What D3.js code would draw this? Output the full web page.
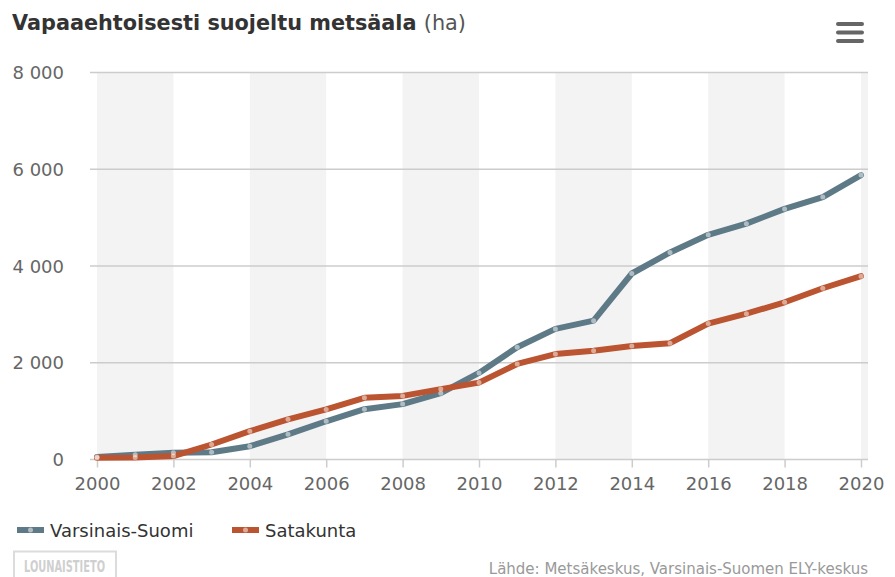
<!DOCTYPE html>
<html><head><meta charset="utf-8">
<script src="https://cdn.jsdelivr.net/npm/d3@7"></script>
<style>body{margin:0;background:#fff}svg{display:block}</style>
</head><body>
<script>
const years = [2000,2001,2002,2003,2004,2005,2006,2007,2008,2009,2010,2011,2012,2013,2014,2015,2016,2017,2018,2019,2020];
const varsinaisSuomi = [50,100,140,150,275,520,790,1040,1145,1370,1790,2320,2700,2870,3845,4280,4645,4875,5180,5425,5880];
const satakunta = [35,40,70,310,585,830,1035,1275,1315,1455,1590,1975,2180,2250,2345,2405,2810,3015,3250,3540,3790];
const seriesNames = ["Varsinais-Suomi","Satakunta"];
const yTicks = [0,2000,4000,6000,8000];
const xTicks = [2000,2002,2004,2006,2008,2010,2012,2014,2016,2018,2020];
const bandStarts = [2000,2004,2008,2012,2016,2020];
const colors = ["#5e7a87","#bb5430"];

const W=895,H=577;
const svg=d3.select("body").append("svg").attr("width",W).attr("height",H);
const plotL=90, plotR=868, plotT=72.5, plotB=459.5;
const x=d3.scaleLinear().domain([2000,2020]).range([97,861]);
const y=d3.scaleLinear().domain([0,8000]).range([plotB,plotT]);
const font="'DejaVu Sans', sans-serif";

svg.append("defs").append("clipPath").attr("id","clip").append("rect")
  .attr("x",plotL).attr("y",plotT).attr("width",plotR-plotL).attr("height",plotB-plotT);

// bands
svg.append("g").attr("clip-path","url(#clip)").selectAll("rect").data(bandStarts).join("rect")
  .attr("x",d=>x(d)).attr("y",plotT).attr("width",d=>x(d+2)-x(d)).attr("height",plotB-plotT)
  .attr("fill","#f3f3f3");

// grid
svg.append("g").selectAll("line").data(yTicks.filter(d=>d>0)).join("line")
  .attr("x1",plotL).attr("x2",plotR).attr("y1",d=>y(d)).attr("y2",d=>y(d))
  .attr("stroke","#cccccc").attr("stroke-width",1.5);

// y labels
svg.append("g").selectAll("text").data(yTicks).join("text")
  .attr("x",64).attr("y",d=>y(d)+6.5).attr("text-anchor","end")
  .attr("font-family",font).attr("font-size",18).attr("fill","#666")
  .text(d=>d3.format(",")(d).replace(/,/g," "));

// x axis
const xa=svg.append("g").attr("transform",`translate(0,${plotB})`)
  .call(d3.axisBottom(x).tickValues(xTicks).tickFormat(d3.format("d")).tickSize(8).tickPadding(10));
xa.select(".domain").remove();
xa.selectAll(".tick line").attr("stroke","#cccccc").attr("stroke-width",1.5);
xa.selectAll(".tick text").attr("font-family",font).attr("font-size",18).attr("fill","#666");
svg.append("line").attr("x1",plotL).attr("x2",plotR).attr("y1",plotB).attr("y2",plotB)
  .attr("stroke","#cccccc").attr("stroke-width",1.5);

// lines
const data=[varsinaisSuomi,satakunta];
const line=d3.line().x((d,i)=>x(years[i])).y(d=>y(d));
data.forEach((s,k)=>{
  svg.append("path").datum(s).attr("d",line).attr("fill","none")
    .attr("stroke",colors[k]).attr("stroke-width",6).attr("stroke-linejoin","round").attr("stroke-linecap","round");
});
data.forEach((s,k)=>{
  svg.append("g").selectAll("circle").data(s).join("circle")
    .attr("cx",(d,i)=>x(years[i])).attr("cy",d=>y(d)).attr("r",2.5)
    .attr("fill","#ffffff").attr("opacity",0.5);
});

// title
const t=svg.append("text").attr("x",12).attr("y",30).attr("font-family",font).attr("fill","#333");
t.append("tspan").attr("font-weight","bold").attr("font-size",20.8).text("Vapaaehtoisesti suojeltu metsäala ");
t.append("tspan").attr("font-size",20.8).attr("fill","#555").text("(ha)");

// menu icon
svg.append("g").selectAll("line").data([0,1,2]).join("line")
  .attr("x1",838).attr("x2",862).attr("y1",d=>24+d*8.5).attr("y2",d=>24+d*8.5)
  .attr("stroke","#666").attr("stroke-width",4).attr("stroke-linecap","round");

// legend
const lx=[17,232];
seriesNames.forEach((n,k)=>{
  const g=svg.append("g");
  g.append("line").attr("x1",lx[k]).attr("x2",lx[k]+27).attr("y1",530).attr("y2",530)
    .attr("stroke",colors[k]).attr("stroke-width",6);
  g.append("circle").attr("cx",lx[k]+13.5).attr("cy",530).attr("r",2.5).attr("fill","#fff").attr("opacity",0.5);
  g.append("text").attr("x",lx[k]+33).attr("y",536.5).attr("font-family",font).attr("font-size",18)
    .attr("fill","#333").text(n);
});

// logo
svg.append("rect").attr("x",14).attr("y",551.5).attr("width",102).attr("height",30)
  .attr("fill","none").attr("stroke","#dcdcdc").attr("stroke-width",2);
svg.append("text").attr("x",24).attr("y",571.5)
  .attr("font-family","'Liberation Sans Narrow','DejaVu Sans Condensed',sans-serif").attr("font-weight","bold")
  .attr("font-size",15).attr("textLength",81).attr("lengthAdjust","spacingAndGlyphs").attr("fill","#cfcfcf").text("LOUNAISTIETO");

// credits
svg.append("text").attr("x",868).attr("y",574).attr("text-anchor","end")
  .attr("font-family",font).attr("font-size",15).attr("fill","#999")
  .text("Lähde: Metsäkeskus, Varsinais-Suomen ELY-keskus");
</script>
</body></html>
